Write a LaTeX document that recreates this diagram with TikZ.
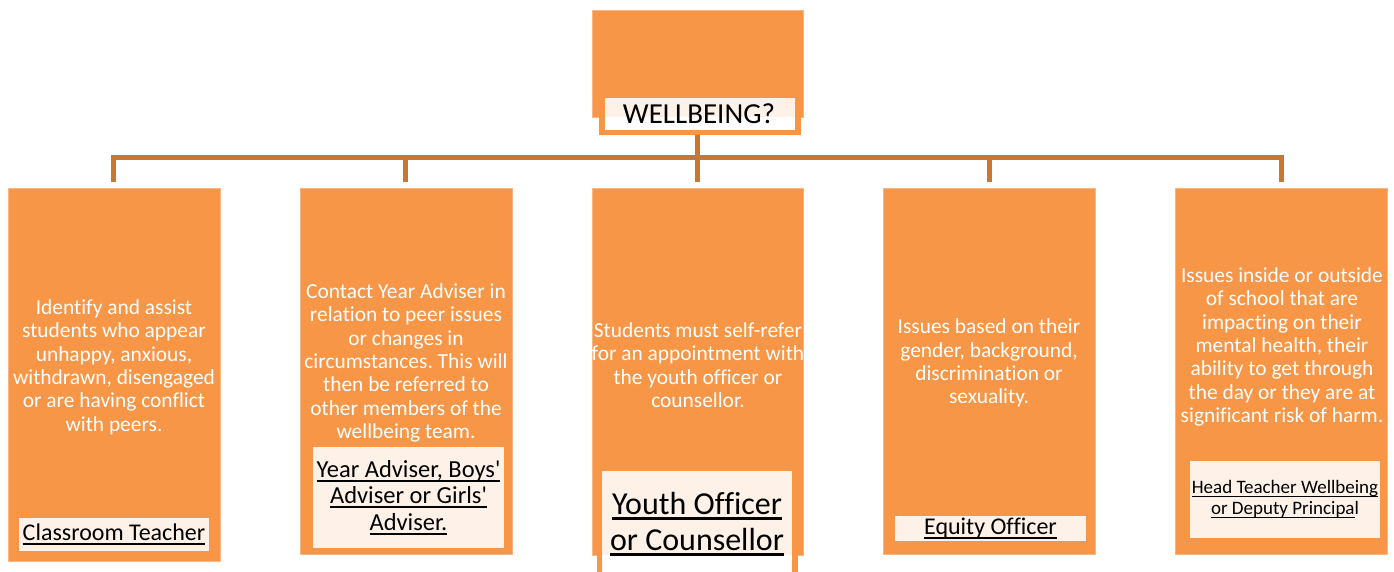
\documentclass[tikz,border=0pt]{standalone}
\usepackage{fontspec}
\setmainfont{Carlito}[Ligatures={TeXOff,NoCommon}]
\frenchspacing
\newcommand\myul[1]{\sbox0{#1}\rlap{\rule[-0.17em]{\wd0}{0.075em}}\usebox0}
\definecolor{org}{HTML}{F79646}
\definecolor{orgedge}{HTML}{F9B584}
\definecolor{conn}{HTML}{C77634}
\definecolor{cream}{HTML}{FDF1E8}
\tikzset{
  obox/.style={rectangle, fill=org, draw=orgedge, line width=0.6pt, inner sep=0pt, anchor=north west},
  lab/.style={rectangle, fill=cream, inner sep=0pt, align=center, text=black},
  body/.style={inner sep=0pt, align=center, text=white, font=\fontsize{21.4}{23.4}\selectfont},
  conn/.style={draw=conn, line width=5pt, line join=miter}
}
\begin{document}
\begin{tikzpicture}[x=1pt,y=-1pt]
\useasboundingbox (0,0) rectangle (1394,572);
% connectors (behind)
\coordinate (t0) at (697,135);
\coordinate (j1) at (113,158);
\coordinate (j2) at (405,158);
\coordinate (j3) at (697,158);
\coordinate (j4) at (989,158);
\coordinate (j5) at (1281,158);
\coordinate (d1) at (113,182);
\coordinate (d2) at (405,182);
\coordinate (d3) at (697,182);
\coordinate (d4) at (989,182);
\coordinate (d5) at (1281,182);
\draw[conn] (t0) -- (d3);
\draw[conn] (d1) -- (j1) -- (j5) -- (d5);
\draw[conn] (j2) -- (d2);
\draw[conn] (j4) -- (d4);

% top box
\node[obox, minimum width=211pt, minimum height=107pt] (top) at (592,10) {};
\fill[org] (599,116) rectangle (801,135);
\fill[cream] (605,98) rectangle (795,117);
\fill[white] (605,117) rectangle (795,130);
\node[inner sep=0pt, text=black, font=\fontsize{29}{32}\selectfont] (l0) at (699,114) {WELLBEING?};

% bottom boxes
\node[obox, minimum width=212pt, minimum height=373pt] (b1) at (8,188) {};
\node[obox, minimum width=212pt, minimum height=366pt] (b2) at (300,188) {};
\node[obox, minimum width=211pt, minimum height=367pt] (b3) at (592,188) {};
\fill[org] (597,554) rectangle (798,572);
\node[obox, minimum width=212pt, minimum height=366pt] (b4) at (883,188) {};
\node[obox, minimum width=212pt, minimum height=366pt] (b5) at (1175,188) {};

% body texts
\node[body] (t1) at (114,367) {Identify and assist\\students who appear\\unhappy, anxious,\\withdrawn, disengaged\\or are having conflict\\with peers.};
\node[body] (t2) at (406,363) {Contact Year Adviser in\\relation to peer issues\\or changes in\\circumstances. This will\\then be referred to\\other members of the\\wellbeing team.};
\node[body] (t3) at (698,365) {Students must self-refer\\for an appointment with\\the youth officer or\\counsellor.};
\node[body] (t4) at (989,363) {Issues based on their\\gender, background,\\discrimination or\\sexuality.};
\node[body] (t5) at (1282,347) {Issues inside or outside\\of school that are\\impacting on their\\mental health, their\\ability to get through\\the day or they are at\\significant risk of harm.};

% role labels
\node[lab, minimum width=190pt, minimum height=33pt, font=\fontsize{24}{28}\selectfont] (l1) at (114,534.5) {\myul{Classroom Teacher}};
\node[lab, minimum width=191pt, minimum height=101pt, font=\fontsize{24.5}{26.5}\selectfont] (l2) at (408.5,497.5) {\myul{Year Adviser, Boys'}\\\myul{Adviser or Girls'}\\\myul{Adviser.}};
\fill[cream] (602,471) rectangle (792,555);
\fill[white] (602,555) rectangle (792,572);
\node[inner sep=0pt, align=center, text=black, font=\fontsize{32}{36}\selectfont] (l3) at (697,524) {\myul{Youth Officer}\\\myul{or Counsellor}};
\node[lab, minimum width=191pt, minimum height=25pt, font=\fontsize{24}{26}\selectfont] (l4) at (990.5,528.5) {\myul{Equity Officer}};
\node[lab, minimum width=190pt, minimum height=77pt, font=\fontsize{19}{21}\selectfont] (l5) at (1285,499.5) {\myul{Head Teacher Wellbeing}\\\myul{or Deputy Principa}l};
\end{tikzpicture}
\end{document}
